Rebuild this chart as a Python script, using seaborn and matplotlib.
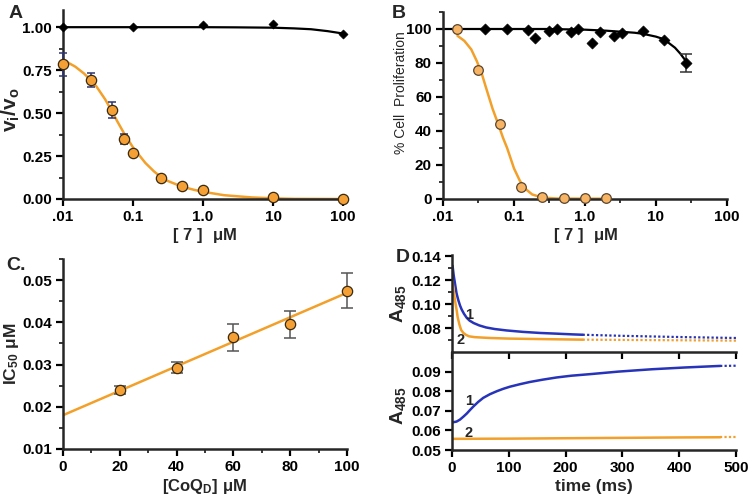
import numpy as np
import matplotlib
matplotlib.use("Agg")
import matplotlib.pyplot as plt
import seaborn as sns
from matplotlib.ticker import NullLocator, MultipleLocator, FixedLocator

# ---- Panel A: enzyme inhibition ----
a_conc = [0.01, 0.0255, 0.0507, 0.075, 0.1, 0.254, 0.50, 1.0, 10.0, 100.0]
a_ratio = [0.783, 0.692, 0.517, 0.35, 0.267, 0.124, 0.074, 0.05, 0.01, 0.0]
a_err = [0.066, 0.041, 0.047, 0.027, 0.015, 0, 0, 0, 0, 0]
a_fit_x = [0.01, 0.015, 0.02, 0.025, 0.03, 0.04, 0.05, 0.06, 0.075, 0.1, 0.15,
           0.2, 0.25, 0.3, 0.5, 0.75, 1, 2, 5, 10, 20, 100]
a_fit_y = [0.81, 0.77, 0.73, 0.69, 0.655, 0.58, 0.51, 0.45, 0.38, 0.30, 0.21,
           0.16, 0.128, 0.108, 0.072, 0.053, 0.042, 0.022, 0.009, 0.004, 0.001, 0.0]
a_ctrl_x = [0.01, 0.1, 1.0, 10.0, 100.0]
a_ctrl_y = [1.0, 1.003, 1.01, 1.02, 0.963]
a_ctrl_fit_x = [0.01, 1, 3, 10, 20, 35, 60, 100]
a_ctrl_fit_y = [1.0, 1.0, 0.999, 0.997, 0.993, 0.988, 0.977, 0.963]

# ---- Panel B: cell proliferation ----
b_conc = [0.0156, 0.0313, 0.0625, 0.125, 0.25, 0.5, 1.0, 2.0]
b_prolif = [100, 76, 44.3, 7.2, 1.2, 0.8, 0.8, 0.8]
b_fit_x = [0.016, 0.02, 0.025, 0.03, 0.035, 0.04, 0.05, 0.06, 0.07, 0.08, 0.1,
           0.12, 0.14, 0.18, 0.25, 0.4, 1.0, 2.0]
b_fit_y = [96, 93, 88, 81, 74, 66, 53, 44, 36, 30, 18, 11, 6.5, 2.7, 0.8, 0.3, 0.2, 0.2]
b_ctrl_x = [0.039, 0.079, 0.16, 0.195, 0.316, 0.40, 0.63, 0.79, 1.27, 1.62,
            2.58, 3.28, 6.5, 12.8, 26.2]
b_ctrl_y = [100, 100, 99.4, 94.5, 99, 100, 98.4, 100, 92, 98.2, 95.7, 97.8, 98.8, 93.6, 80]
b_ctrl_err = [0] * 14 + [5.1]
b_ctrl_fit_x = [0.01, 0.3, 1, 2, 3.2, 5, 6.5, 10, 12.9, 18.5, 22, 26.2]
b_ctrl_fit_y = [100, 100, 99.6, 99, 98.4, 97.8, 97.2, 95.5, 94, 89, 85.5, 81.3]

# ---- Panel C: IC50 vs CoQD ----
c_coq = [20, 40, 60, 80, 100]
c_ic50 = [0.024, 0.0292, 0.0365, 0.0395, 0.0475]
c_err = [0.001, 0.0013, 0.0032, 0.0032, 0.0041]
c_fit_x = [0, 100]
c_fit_y = [0.018, 0.047]

# ---- Panel D: stopped-flow traces ----
d1_blue_t = [1, 3, 5, 8, 11, 14, 17, 21, 26, 31, 38, 48, 60, 75, 96, 125, 155, 185, 213, 230]
d1_blue_y = [0.132, 0.124, 0.118, 0.109, 0.1035, 0.099, 0.0955, 0.092, 0.0885, 0.0862,
             0.0842, 0.0822, 0.0805, 0.0792, 0.078, 0.0768, 0.0759, 0.0753, 0.0747, 0.0744]
d1_blue_dot_t = [230, 300, 400, 500]
d1_blue_dot_y = [0.0744, 0.0735, 0.0725, 0.0717]
d1_orng_t = [1, 3, 5, 8, 10, 13, 16, 20, 25, 30, 40, 55, 67, 100, 155, 230]
d1_orng_y = [0.119, 0.111, 0.1038, 0.0955, 0.089, 0.083, 0.0785, 0.0759, 0.0742, 0.0731,
             0.0724, 0.072, 0.0717, 0.0712, 0.0708, 0.0703]
d1_orng_dot_t = [230, 500]
d1_orng_dot_y = [0.0703, 0.0695]

d2_blue_t = [1, 8, 14, 20, 26, 32, 38, 46, 55, 67, 79, 90, 102, 120, 137, 160, 184, 210,
             243, 293, 352, 410, 472]
d2_blue_y = [0.0641, 0.0645, 0.0655, 0.067, 0.0686, 0.0705, 0.0723, 0.0745, 0.0766, 0.0785,
             0.080, 0.0812, 0.0823, 0.0836, 0.0847, 0.0859, 0.087, 0.0879, 0.0887, 0.090,
             0.0912, 0.0921, 0.0929]
d2_blue_dot_t = [472, 500]
d2_blue_dot_y = [0.0929, 0.093]
d2_orng_t = [0, 100, 200, 300, 400, 472]
d2_orng_y = [0.0557, 0.0558, 0.056, 0.0562, 0.0564, 0.0565]
d2_orng_dot_t = [472, 500]
d2_orng_dot_y = [0.0565, 0.0565]

ORANGE = '#F2A02A'
ORANGE_FACE = '#F5A034'
ORANGE_LIGHT = '#F6B464'
BLUE = '#2733B8'
NAVY = '#2E3470'

sns.set_style('ticks')
plt.rcParams['font.family'] = ['Liberation Sans', 'DejaVu Sans']
plt.rcParams['font.weight'] = 'bold'
plt.rcParams['mathtext.fontset'] = 'custom'
plt.rcParams['mathtext.rm'] = 'Liberation Sans'
plt.rcParams['mathtext.bf'] = 'Liberation Sans:bold'
plt.rcParams['mathtext.it'] = 'Liberation Sans:italic'

W, H = 751, 500
fig = plt.figure(figsize=(7.51, 5), dpi=100)


def box(l, t, r, b):
    return [l / W, 1 - b / H, (r - l) / W, (b - t) / H]


def style(ax):
    for s in ['top', 'right']:
        ax.spines[s].set_visible(False)
    ax.spines['left'].set_linewidth(1.8)
    ax.spines['bottom'].set_linewidth(1.8)
    ax.tick_params(which='major', direction='out', length=5, width=1.6,
                   labelsize=11, colors='black', pad=3)
    ax.tick_params(which='minor', direction='out', length=3, width=1.3)
    for lab in ax.get_xticklabels() + ax.get_yticklabels():
        lab.set_fontweight('bold')
    ax.set_facecolor('white')


MU_LABEL = r'$\mathbf{[\ 7\ ]}\ \ \mathrm{\mu}\mathbf{M}$'

# ---------------- A ----------------
axA = fig.add_axes(box(63, 10, 346, 199))
sns.lineplot(x=a_ctrl_fit_x, y=a_ctrl_fit_y, ax=axA, color='black', lw=1.6,
             estimator=None, sort=False)
sns.lineplot(x=a_fit_x, y=a_fit_y, ax=axA, color=ORANGE, lw=1.8,
             estimator=None, sort=False)
axA.errorbar(a_conc[:5], a_ratio[:5], yerr=a_err[:5], fmt='none', ecolor=NAVY,
             elinewidth=1.1, capsize=3, capthick=1.1, zorder=3, clip_on=False)
sns.scatterplot(x=a_ctrl_x, y=a_ctrl_y, ax=axA, marker='D', s=22, color='black',
                edgecolor='black', zorder=5, clip_on=False)
sns.scatterplot(x=a_conc, y=a_ratio, ax=axA, marker='o', s=55, color=ORANGE_FACE,
                edgecolor='#3a2a10', linewidth=0.9, zorder=6, clip_on=False)
axA.set_xscale('log')
axA.set_xlim(0.01, 110)
axA.set_ylim(0, 1.1)
axA.set_xticks([0.01, 0.1, 1, 10, 100])
axA.set_xticklabels(['.01', '0.1', '1.0', '10', '100'])
axA.xaxis.set_minor_locator(NullLocator())
axA.set_yticks([0, 0.25, 0.5, 0.75, 1.0])
axA.set_yticklabels(['0.00', '0.25', '0.50', '0.75', '1.00'])
axA.yaxis.set_minor_locator(FixedLocator([0.125, 0.375, 0.625, 0.875]))
axA.set_xlabel(MU_LABEL, fontsize=12)
axA.set_ylabel(r'$\mathbf{v_i/v_o}$', fontsize=15)
axA.xaxis.set_label_coords(0.5, -0.145)
axA.yaxis.set_label_coords(-0.145, 0.47)
style(axA)

# ---------------- B ----------------
axB = fig.add_axes(box(443, 12, 727, 199))
sns.lineplot(x=b_ctrl_fit_x, y=b_ctrl_fit_y, ax=axB, color='black', lw=1.6,
             estimator=None, sort=False)
sns.lineplot(x=b_fit_x, y=b_fit_y, ax=axB, color=ORANGE, lw=1.8,
             estimator=None, sort=False)
axB.errorbar(b_ctrl_x[-1:], b_ctrl_y[-1:], yerr=b_ctrl_err[-1:], fmt='none',
             ecolor='#333333', elinewidth=1.1, capsize=4, capthick=1.1, zorder=3)
sns.scatterplot(x=b_ctrl_x, y=b_ctrl_y, ax=axB, marker='D', s=32, color='black',
                edgecolor='black', zorder=5)
sns.scatterplot(x=b_conc, y=b_prolif, ax=axB, marker='o', s=48, color=ORANGE_LIGHT,
                edgecolor='#5a4630', linewidth=0.9, zorder=6, clip_on=False)
axB.set_xscale('log')
axB.set_xlim(0.01, 100)
axB.set_ylim(0, 110)
axB.set_xticks([0.01, 0.1, 1, 10, 100])
axB.set_xticklabels(['.01', '0.1', '1.0', '10', '100'])
axB.xaxis.set_minor_locator(FixedLocator([0.0316, 0.316, 3.16, 31.6]))
axB.set_yticks([0, 20, 40, 60, 80, 100])
axB.yaxis.set_minor_locator(MultipleLocator(10))
axB.set_xlabel(MU_LABEL, fontsize=12)
axB.set_ylabel('% Cell  Proliferation', fontsize=10, fontweight='normal')
axB.xaxis.set_label_coords(0.5, -0.147)
axB.yaxis.set_label_coords(-0.123, 0.57)
style(axB)

# ---------------- C ----------------
axC = fig.add_axes(box(63, 259, 347, 449))
sns.lineplot(x=c_fit_x, y=c_fit_y, ax=axC, color=ORANGE, lw=1.8,
             estimator=None, sort=False)
axC.errorbar(c_coq, c_ic50, yerr=c_err, fmt='none', ecolor='#555555',
             elinewidth=1.1, capsize=4, capthick=1.1, zorder=3, clip_on=False)
sns.scatterplot(x=c_coq, y=c_ic50, ax=axC, marker='o', s=55, color=ORANGE_FACE,
                edgecolor='#3a2a10', linewidth=0.9, zorder=6, clip_on=False)
axC.set_xlim(0, 100)
axC.set_ylim(0.01, 0.055)
axC.set_xticks([0, 20, 40, 60, 80, 100])
axC.xaxis.set_minor_locator(MultipleLocator(10))
axC.set_yticks([0.01, 0.02, 0.03, 0.04, 0.05])
axC.set_yticklabels(['0.01', '0.02', '0.03', '0.04', '0.05'])
axC.yaxis.set_minor_locator(MultipleLocator(0.005))
axC.set_xlabel(r'$\mathbf{[CoQ_D]}\ \mathrm{\mu}\mathbf{M}$', fontsize=12)
axC.set_ylabel(r'$\mathbf{IC_{50}}\ \mathrm{\mu}\mathbf{M}$', fontsize=12.5)
axC.xaxis.set_label_coords(0.5, -0.145)
axC.yaxis.set_label_coords(-0.148, 0.5)
style(axC)

# ---------------- D (two stacked traces) ----------------
axD1 = fig.add_axes(box(452, 255, 736, 352))
axD2 = fig.add_axes(box(452, 352, 736, 450))
for ax, sol, dot in [
    (axD1, [(d1_blue_t, d1_blue_y, BLUE), (d1_orng_t, d1_orng_y, ORANGE)],
     [(d1_blue_dot_t, d1_blue_dot_y, BLUE), (d1_orng_dot_t, d1_orng_dot_y, ORANGE)]),
    (axD2, [(d2_blue_t, d2_blue_y, BLUE), (d2_orng_t, d2_orng_y, ORANGE)],
     [(d2_blue_dot_t, d2_blue_dot_y, BLUE), (d2_orng_dot_t, d2_orng_dot_y, ORANGE)]),
]:
    for t, y, c in sol:
        sns.lineplot(x=t, y=y, ax=ax, color=c, lw=1.8, estimator=None, sort=False)
    for t, y, c in dot:
        sns.lineplot(x=t, y=y, ax=ax, color=c, lw=1.6, linestyle=(0, (1, 1)),
                     estimator=None, sort=False)
    ax.set_xlim(0, 500)
    ax.set_xticks([0, 100, 200, 300, 400, 500])

axD1.set_ylim(0.06, 0.141)
axD1.set_yticks([0.08, 0.10, 0.12, 0.14])
axD1.set_yticklabels(['0.08', '0.10', '0.12', '0.14'])
axD1.yaxis.set_minor_locator(FixedLocator([0.07, 0.09, 0.11, 0.13]))
axD1.set_xticklabels([])
axD1.text(30, 0.0912, '1', fontsize=10.5, fontweight='bold', ha='center', va='center')
axD1.text(15, 0.0697, '2', fontsize=10.5, fontweight='bold', ha='center', va='center')
axD1.set_ylabel(r'$\mathbf{A_{485}}$', fontsize=14)
axD1.yaxis.set_label_coords(-0.155, 0.5)
style(axD1)
axD1.tick_params(axis='x', labelbottom=False)

axD2.set_ylim(0.05, 0.1)
axD2.set_yticks([0.05, 0.06, 0.07, 0.08, 0.09])
axD2.set_yticklabels(['0.05', '0.06', '0.07', '0.08', '0.09'])
axD2.text(30, 0.0749, '1', fontsize=10.5, fontweight='bold', ha='center', va='center')
axD2.text(30, 0.0589, '2', fontsize=10.5, fontweight='bold', ha='center', va='center')
axD2.set_xlabel('time (ms)', fontsize=12.5, fontweight='bold')
axD2.set_ylabel(r'$\mathbf{A_{485}}$', fontsize=14)
axD2.xaxis.set_label_coords(0.5, -0.3)
axD2.yaxis.set_label_coords(-0.155, 0.45)
style(axD2)
axD2.patch.set_alpha(0)

# panel letters
for lbl, x, y in [('A', 16, 14), ('B', 399, 14), ('C.', 16, 266), ('D', 403, 257)]:
    fig.text(x / W, 1 - y / H, lbl, fontsize=14, fontweight='bold', ha='center', va='center')

fig.savefig('out.png', dpi=100, facecolor='white')
